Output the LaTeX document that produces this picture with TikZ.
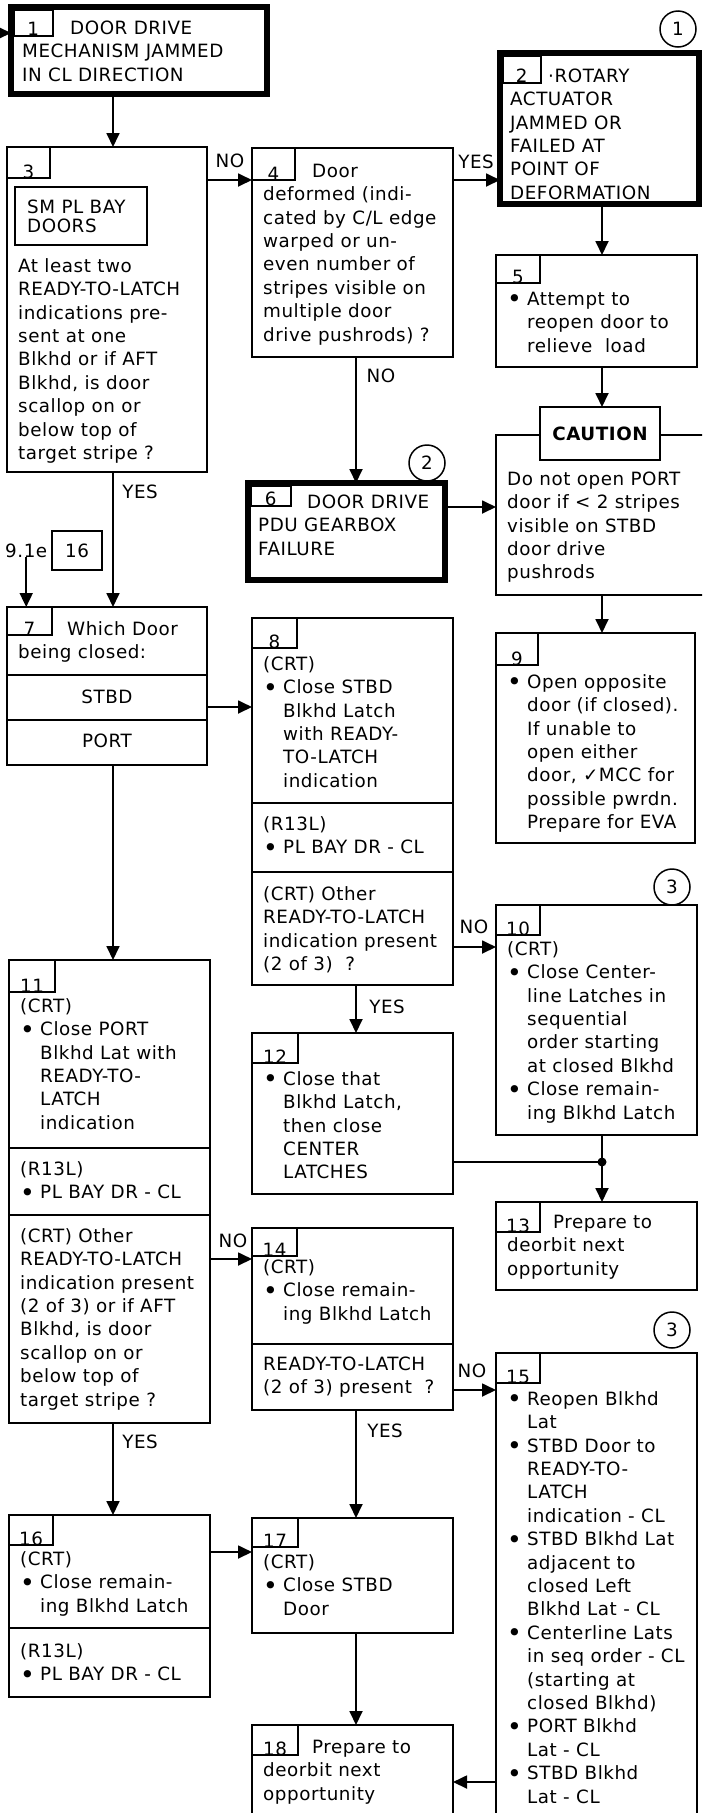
\documentclass[tikz,border=0pt]{standalone}
\usepackage{fontspec}
\newfontfamily\dejavu[LetterSpace=3]{DejaVu Sans}
\usetikzlibrary{arrows.meta}
\newcommand\chartfont{\dejavu\fontsize{18.3}{23.4}\selectfont}
\newcommand\ft{\rule{0pt}{15pt}}
\newcommand\bul{\makebox[20pt][l]{\raisebox{-2.5pt}{\fontsize{25}{25}\selectfont\textbullet}}}
\newcommand\bsp{\hspace*{20pt}}

\tikzset{
  box/.style={draw, line width=1.5pt, anchor=north west, inner sep=0pt, outer sep=0pt},
  heavy/.style={box, line width=5.5pt},
  tab/.style 2 args={draw, line width=1.5pt, anchor=north west, inner sep=0pt, outer sep=0pt,
    minimum width=#1pt, text height=#2pt, text depth=0pt, font=\chartfont},
  txt/.style={anchor=north west, yshift=15pt, align=left, inner sep=0pt, font=\chartfont},
  yn/.style={anchor=base, inner sep=0pt, font=\chartfont},
  flow/.style={line width=1.8pt, -{Triangle[length=14pt,width=13pt]}},
  link/.style={line width=1.8pt},
  ref/.style={draw, circle, line width=1.5pt, minimum size=36pt, inner sep=0pt, font=\chartfont},
}

\begin{document}
\begin{tikzpicture}[x=1pt, y=-1pt]
  \useasboundingbox (0,0) rectangle (702,1813);
  \clip (0,0) rectangle (702,1813);

  % Coordinate di servizio: colonne e righe delle frecce
  \coordinate (cL) at (113,0);
  \coordinate (cM) at (356,0);
  \coordinate (cR) at (602,0);
  \coordinate (in1) at (-20,33);
  \coordinate (r34) at (0,180);
  \coordinate (r6) at (0,507);
  \coordinate (r78) at (0,707);
  \coordinate (r810) at (0,947);
  \coordinate (j) at (602,1162);
  \coordinate (r1114) at (0,1259);
  \coordinate (r1415) at (0,1390);
  \coordinate (r1617) at (0,1552);
  \coordinate (r1518) at (0,1782);

  % Blocco 1
  \node[heavy, minimum width=256pt, minimum height=87pt] (b1) at (11,7) {};
  \node[tab={39}{26}] (t1) at ([shift={(2.75,2.75)}]b1.north west) {1};
  \node[txt] (x1) at (22,34) {\ft\hspace*{48pt}DOOR DRIVE\\MECHANISM JAMMED\\IN CL DIRECTION};

  % Blocco 2
  \node[heavy, minimum width=199pt, minimum height=151pt] (b2) at (500,53) {};
  \node[tab={38}{27}] (t2) at ([shift={(2.75,2.75)}]b2.north west) {2};
  \node[txt] (x2) at (510,82) {\ft\hspace*{38pt}·ROTARY\\ACTUATOR\\JAMMED OR\\FAILED AT\\POINT OF\\DEFORMATION};
  \node[ref] (c1) at (678,29) {1};

  % Blocco 3
  \node[box, minimum width=200pt, minimum height=325pt] (b3) at (7,147) {};
  \node[tab={43}{31}] (t3) at (b3.north west) {3};
  \node[box, minimum width=132pt, minimum height=58pt] (i3) at (15,187) {};
  \node[txt, font=\dejavu\fontsize{18.3}{19}\selectfont] (y3) at (27,213) {\ft SM PL BAY\\DOORS};
  \node[txt] (x3) at (18,272) {\ft At least two\\READY-TO-LATCH\\indications pre-\\sent at one\\Blkhd or if AFT\\Blkhd, is door\\scallop on or\\below top of\\target stripe ?};

  % Blocco 4
  \node[box, minimum width=201pt, minimum height=209pt] (b4) at (252,148) {};
  \node[tab={43}{32}] (t4) at (b4.north west) {4};
  \node[txt] (x4) at (263,177) {\ft\hspace*{49pt}Door\\deformed (indi-\\cated by C/L edge\\warped or un-\\even number of\\stripes visible on\\multiple door\\drive pushrods) ?};

  % Blocco 5
  \node[box, minimum width=201pt, minimum height=112pt] (b5) at (496,255) {};
  \node[tab={44}{28}] (t5) at (b5.north west) {5};
  \node[txt] (x5) at (507,305) {\ft\bul Attempt to\\\bsp reopen door to\\\bsp relieve\ \ load};

  % Caution
  \node[box, minimum width=209pt, minimum height=160pt] (cb) at (496,435) {};
  \node[box, anchor=center, line width=2.5pt, fill=white, minimum width=120pt, minimum height=53pt,
    font=\dejavu\bfseries\fontsize{18.3}{23.4}\selectfont] (ct) at (600,433.5) {CAUTION};
  \node[txt] (xc) at (507,485) {\ft Do not open PORT\\door if < 2 stripes\\visible on STBD\\door drive\\pushrods};

  % Blocco 6
  \node[heavy, minimum width=197pt, minimum height=97pt] (b6) at (248,483) {};
  \node[tab={40}{20}] (t6) at ([shift={(2.75,2.75)}]b6.north west) {6};
  \node[txt] (x6) at (258,508) {\ft\hspace*{49pt}DOOR DRIVE\\PDU GEARBOX\\FAILURE};
  \node[ref] (c2) at (427,463) {2};

  % Blocco 7
  \node[box, minimum width=200pt, minimum height=158pt] (b7) at (7,607) {};
  \node[tab={45}{28}] (t7) at (b7.north west) {7};
  \node[txt] (x7) at (18,635) {\ft\hspace*{49pt}Which Door\\being closed:};
  \draw[line width=1.5pt] (b7.west |- 0,675) -- (b7.east |- 0,675);
  \draw[line width=1.5pt] (b7.west |- 0,720) -- (b7.east |- 0,720);
  \node[yn] (s7) at (107,703) {STBD};
  \node[yn] (p7) at (107,747) {PORT};
  \node[yn, anchor=base west] (l91) at (5,557) {9.1e};
  \node[box, minimum width=50pt, minimum height=39pt, font=\chartfont] (k16) at (52,531) {16};

  % Blocco 8
  \node[box, minimum width=201pt, minimum height=367pt] (b8) at (252,618) {};
  \node[tab={45}{30}] (t8) at (b8.north west) {8};
  \node[txt] (x8) at (263,670) {\ft(CRT)\\\bul Close STBD\\\bsp Blkhd Latch\\\bsp with READY-\\\bsp TO-LATCH\\\bsp indication};
  \draw[line width=1.5pt] (b8.west |- 0,803) -- (b8.east |- 0,803);
  \node[txt] (y8) at (263,830) {\ft(R13L)\\\bul PL BAY DR - CL};
  \draw[line width=1.5pt] (b8.west |- 0,872) -- (b8.east |- 0,872);
  \node[txt] (z8) at (263,900) {\ft(CRT) Other\\READY-TO-LATCH\\indication present\\(2 of 3)\ \ ?};

  % Blocco 9
  \node[box, minimum width=199pt, minimum height=210pt] (b9) at (496,633) {};
  \node[tab={42}{32}] (t9) at (b9.north west) {9};
  \node[txt] (x9) at (507,688) {\ft\bul Open opposite\\\bsp door (if closed).\\\bsp If unable to\\\bsp open either\\\bsp door, ✓MCC for\\\bsp possible pwrdn.\\\bsp Prepare for EVA};

  % Blocco 10
  \node[ref] (c3) at (672,887) {3};
  \node[box, minimum width=201pt, minimum height=230pt] (b10) at (496,905) {};
  \node[tab={44}{30}] (t10) at (b10.north west) {10};
  \node[txt] (x10) at (507,955) {\ft(CRT)\\\bul Close Center-\\\bsp line Latches in\\\bsp sequential\\\bsp order starting\\\bsp at closed Blkhd\\\bul Close remain-\\\bsp ing Blkhd Latch};

  % Blocco 11
  \node[box, minimum width=201pt, minimum height=463pt] (b11) at (9,960) {};
  \node[tab={46}{32}] (t11) at (b11.north west) {11};
  \node[txt] (x11) at (20,1012) {\ft(CRT)\\\bul Close PORT\\\bsp Blkhd Lat with\\\bsp READY-TO-\\\bsp LATCH\\\bsp indication};
  \draw[line width=1.5pt] (b11.west |- 0,1148) -- (b11.east |- 0,1148);
  \node[txt] (y11) at (20,1175) {\ft(R13L)\\\bul PL BAY DR - CL};
  \draw[line width=1.5pt] (b11.west |- 0,1215) -- (b11.east |- 0,1215);
  \node[txt] (z11) at (20,1242) {\ft(CRT) Other\\READY-TO-LATCH\\indication present\\(2 of 3) or if AFT\\Blkhd, is door\\scallop on or\\below top of\\target stripe ?};

  % Blocco 12
  \node[box, minimum width=201pt, minimum height=161pt] (b12) at (252,1033) {};
  \node[tab={46}{30}] (t12) at (b12.north west) {12};
  \node[txt] (x12) at (263,1085) {\ft\bul Close that\\\bsp Blkhd Latch,\\\bsp then close\\\bsp CENTER\\\bsp LATCHES};

  % Blocco 13
  \node[box, minimum width=201pt, minimum height=88pt] (b13) at (496,1202) {};
  \node[tab={44}{30}] (t13) at (b13.north west) {13};
  \node[txt] (x13) at (507,1228) {\ft\hspace*{46pt}Prepare to\\deorbit next\\opportunity};

  % Blocco 14
  \node[box, minimum width=201pt, minimum height=182pt] (b14) at (252,1228) {};
  \node[tab={45}{28}] (t14) at (b14.north west) {14};
  \node[txt] (x14) at (263,1273) {\ft(CRT)\\\bul Close remain-\\\bsp ing Blkhd Latch};
  \draw[line width=1.5pt] (b14.west |- 0,1344) -- (b14.east |- 0,1344);
  \node[txt] (y14) at (263,1370) {\ft READY-TO-LATCH\\(2 of 3) present\ \ ?};

  % Blocco 15
  \node[ref] (c4) at (672,1330) {3};
  \node[box, minimum width=201pt, minimum height=480pt] (b15) at (496,1353) {};
  \node[tab={44}{30}] (t15) at (b15.north west) {15};
  \node[txt] (x15) at (507,1405) {\ft\bul Reopen Blkhd\\\bsp Lat\\\bul STBD Door to\\\bsp READY-TO-\\\bsp LATCH\\\bsp indication - CL\\\bul STBD Blkhd Lat\\\bsp adjacent to\\\bsp closed Left\\\bsp Blkhd Lat - CL\\\bul Centerline Lats\\\bsp in seq order - CL\\\bsp (starting at\\\bsp closed Blkhd)\\\bul PORT Blkhd\\\bsp Lat - CL\\\bul STBD Blkhd\\\bsp Lat - CL};

  % Blocco 16
  \node[box, minimum width=201pt, minimum height=182pt] (b16) at (9,1515) {};
  \node[tab={44}{30}] (t16) at (b16.north west) {16};
  \node[txt] (x16) at (20,1565) {\ft(CRT)\\\bul Close remain-\\\bsp ing Blkhd Latch};
  \draw[line width=1.5pt] (b16.west |- 0,1628) -- (b16.east |- 0,1628);
  \node[txt] (y16) at (20,1657) {\ft(R13L)\\\bul PL BAY DR - CL};

  % Blocco 17
  \node[box, minimum width=201pt, minimum height=115pt] (b17) at (252,1518) {};
  \node[tab={46}{29}] (t17) at (b17.north west) {17};
  \node[txt] (x17) at (263,1568) {\ft(CRT)\\\bul Close STBD\\\bsp Door};

  % Blocco 18
  \node[box, minimum width=201pt, minimum height=110pt] (b18) at (252,1725) {};
  \node[tab={46}{30}] (t18) at (b18.north west) {18};
  \node[txt] (x18) at (263,1753) {\ft\hspace*{49pt}Prepare to\\deorbit next\\opportunity};

  % Frecce
  \draw[flow] (in1) -- (in1 -| b1.west);
  \draw[flow] (b1.south -| cL) -- (b3.north -| cL);
  \draw[flow] (b3.east |- r34) -- (b4.west |- r34);
  \draw[flow] (b4.east |- r34) -- (b2.west |- r34);
  \draw[flow] (b4.south -| cM) -- (b6.north -| cM);
  \draw[flow] (b2.south -| cR) -- (b5.north -| cR);
  \draw[flow] (b5.south -| cR) -- (ct.north -| cR);
  \draw[flow] (b6.east |- r6) -- (cb.west |- r6);
  \draw[flow] (cb.south -| cR) -- (b9.north -| cR);
  \draw[flow] (b3.south -| cL) -- (b7.north -| cL);
  \draw[flow] (l91.south) -- (l91.south |- b7.north);
  \draw[flow] (b7.east |- r78) -- (b8.west |- r78);
  \draw[flow] (b7.south -| cL) -- (b11.north -| cL);
  \draw[flow] (b8.east |- r810) -- (b10.west |- r810);
  \draw[flow] (b8.south -| cM) -- (b12.north -| cM);
  \draw[link] (b12.east |- j) -- (j);
  \draw[flow] (b10.south -| cR) -- (b13.north -| cR);
  \fill (j) circle (4.5pt);
  \draw[flow] (b11.east |- r1114) -- (b14.west |- r1114);
  \draw[flow] (b14.east |- r1415) -- (b15.west |- r1415);
  \draw[flow] (b14.south -| cM) -- (b17.north -| cM);
  \draw[flow] (b11.south -| cL) -- (b16.north -| cL);
  \draw[flow] (b16.east |- r1617) -- (b17.west |- r1617);
  \draw[flow] (b17.south -| cM) -- (b18.north -| cM);
  \draw[flow] (b15.west |- r1518) -- (b18.east |- r1518);

  % Etichette SI/NO
  \node[yn] (n34) at (230,167) {NO};
  \node[yn] (y42) at (476,168) {YES};
  \node[yn] (n46) at (381,382) {NO};
  \node[yn] (y37) at (140,498) {YES};
  \node[yn] (n810) at (474,933) {NO};
  \node[yn] (y812) at (387,1013) {YES};
  \node[yn] (n1114) at (233,1247) {NO};
  \node[yn] (n1415) at (472,1377) {NO};
  \node[yn] (y1417) at (385,1437) {YES};
  \node[yn] (y1116) at (140,1448) {YES};
\end{tikzpicture}
\end{document}
